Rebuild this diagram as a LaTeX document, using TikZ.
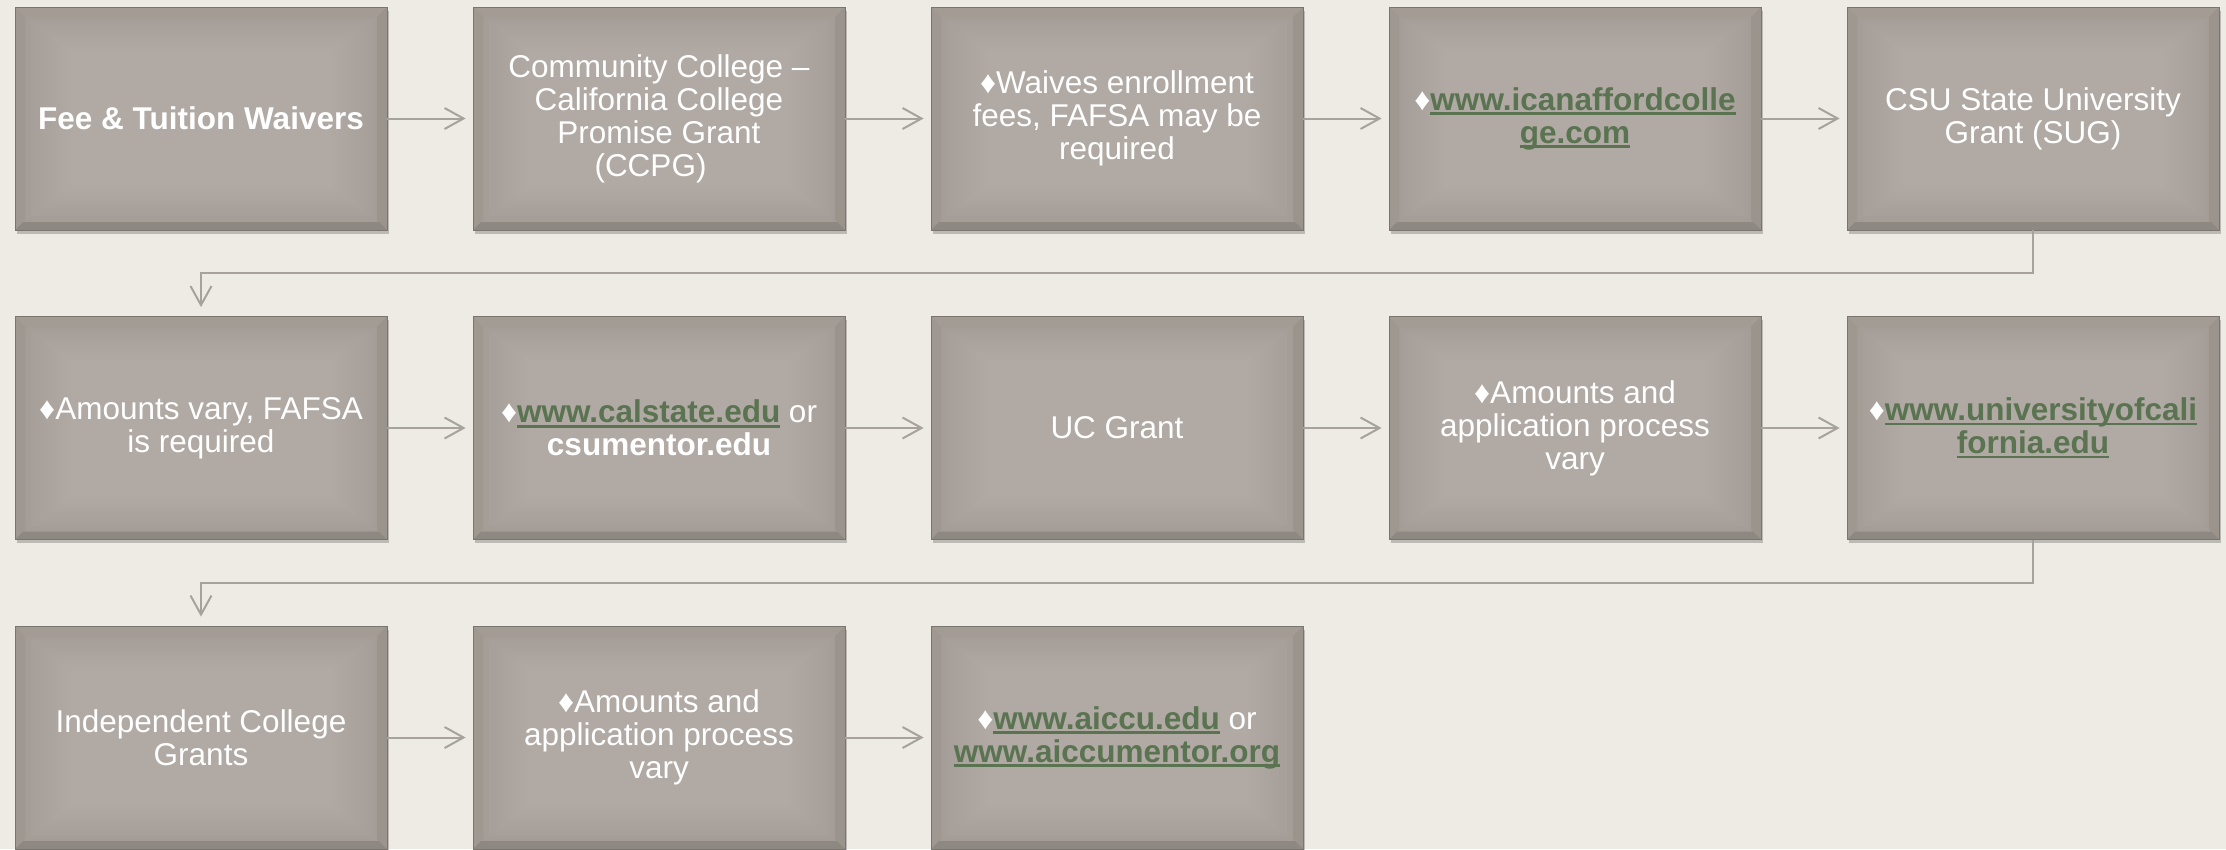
\documentclass[tikz,border=0pt]{standalone}
\usepackage{fontspec}
\setmainfont{Liberation Sans}
\usetikzlibrary{arrows.meta,shadows}
\definecolor{bgc}{HTML}{EEEBE5}
\definecolor{boxc}{HTML}{A49D96}
\definecolor{boxedge}{HTML}{7A756F}
\definecolor{bevT}{HTML}{A29C95}
\definecolor{bevL}{HTML}{9E9891}
\definecolor{bevR}{HTML}{9A948D}
\definecolor{bevB}{HTML}{8E8882}
\definecolor{linkc}{HTML}{5A7350}
\definecolor{connc}{HTML}{A7A29C}
\newsavebox\lnkbox
\newcommand{\lnk}[1]{\sbox\lnkbox{\bfseries\color{linkc}#1}\leavevmode\rlap{\color{linkc}\rule[-5pt]{\wd\lnkbox}{2.6pt}}\usebox\lnkbox}
\newcommand{\dia}{♦}
\tikzset{
  stepbox/.style={rectangle, minimum width=372pt, minimum height=223pt,
    inner sep=0pt, fill=boxc, draw=boxedge, line width=0.8pt,
    text=white, align=center,
    font=\fontsize{31.5}{33}\selectfont,
    drop shadow={shadow xshift=1.5pt, shadow yshift=-3.5pt, opacity=0.3, fill=black!70},
    path picture={
      \coordinate (pa) at (path picture bounding box.south west);
      \coordinate (pb) at (path picture bounding box.north east);
      \coordinate (pc) at (path picture bounding box.north west);
      \coordinate (pd) at (path picture bounding box.south east);
      \foreach \k in {1,...,12}{
        \fill[white,opacity=0.02] ([xshift=8pt+\k*4pt,yshift=8pt+\k*3pt]pa) rectangle ([xshift=-8pt-\k*4pt,yshift=-8pt-\k*3pt]pb);
      }
      \fill[bevT] (pc) -- (pb) -- ([xshift=-10pt,yshift=-10pt]pb) -- ([xshift=10pt,yshift=-10pt]pc) -- cycle;
      \fill[bevL] (pc) -- (pa) -- ([xshift=10pt,yshift=10pt]pa) -- ([xshift=10pt,yshift=-10pt]pc) -- cycle;
      \fill[bevR] (pb) -- (pd) -- ([xshift=-10pt,yshift=10pt]pd) -- ([xshift=-10pt,yshift=-10pt]pb) -- cycle;
      \fill[bevB] (pa) -- (pd) -- ([xshift=-8pt,yshift=8pt]pd) -- ([xshift=8pt,yshift=8pt]pa) -- cycle;
    }},
  conn/.style={draw=connc, line width=2pt,
    -{Straight Barb[length=19pt,width=21pt,line width=2pt]}}
}
\begin{document}
\begin{tikzpicture}[x=1pt,y=-1pt]
\useasboundingbox (0,0) rectangle (2226,849);
\fill[bgc] (0,0) rectangle (2226,849);
% row 1
\node[stepbox] (a1) at (201,118.5) {\textbf{Fee \& Tuition Waivers}};
\node[stepbox] (a2) at (659,118.5) {Community College –\\California College\\Promise Grant\\(CCPG)\rule{17pt}{0pt}};
\node[stepbox] (a3) at (1117,118.5) {\dia Waives enrollment\\fees, FAFSA may be\\required};
\node[stepbox] (a4) at (1575,118.5) {\dia\lnk{www.icanaffordcolle}\\\lnk{ge.com}};
\node[stepbox] (a5) at (2033,118.5) {CSU State University\\Grant (SUG)};
% row 2
\node[stepbox] (b1) at (201,428) {\dia Amounts vary, FAFSA\\is required};
\node[stepbox] (b2) at (659,428) {\dia\lnk{www.calstate.edu} or\\\textbf{csumentor.edu}};
\node[stepbox] (b3) at (1117,428) {UC Grant};
\node[stepbox] (b4) at (1575,428) {\dia Amounts and\\application process\\vary};
\node[stepbox] (b5) at (2033,428) {\dia\lnk{www.universityofcali}\\\lnk{fornia.edu}};
% row 3
\node[stepbox] (c1) at (201,737.5) {Independent College\\Grants};
\node[stepbox] (c2) at (659,737.5) {\dia Amounts and\\application process\\vary};
\node[stepbox] (c3) at (1117,737.5) {\dia\lnk{www.aiccu.edu} or\\\lnk{www.aiccumentor.org}};
% connectors
\draw[conn, shorten >=7pt] (a1.east) -- (a2.west);
\draw[conn, shorten >=7pt] (a2.east) -- (a3.west);
\draw[conn, shorten >=7pt] (a3.east) -- (a4.west);
\draw[conn, shorten >=7pt] (a4.east) -- (a5.west);
\draw[conn, shorten >=9pt] (a5.south) -- ++(0,43) -| (b1.north);
\draw[conn, shorten >=7pt] (b1.east) -- (b2.west);
\draw[conn, shorten >=7pt] (b2.east) -- (b3.west);
\draw[conn, shorten >=7pt] (b3.east) -- (b4.west);
\draw[conn, shorten >=7pt] (b4.east) -- (b5.west);
\draw[conn, shorten >=9pt] (b5.south) -- ++(0,43) -| (c1.north);
\draw[conn, shorten >=7pt] (c1.east) -- (c2.west);
\draw[conn, shorten >=7pt] (c2.east) -- (c3.west);
\end{tikzpicture}
\end{document}
